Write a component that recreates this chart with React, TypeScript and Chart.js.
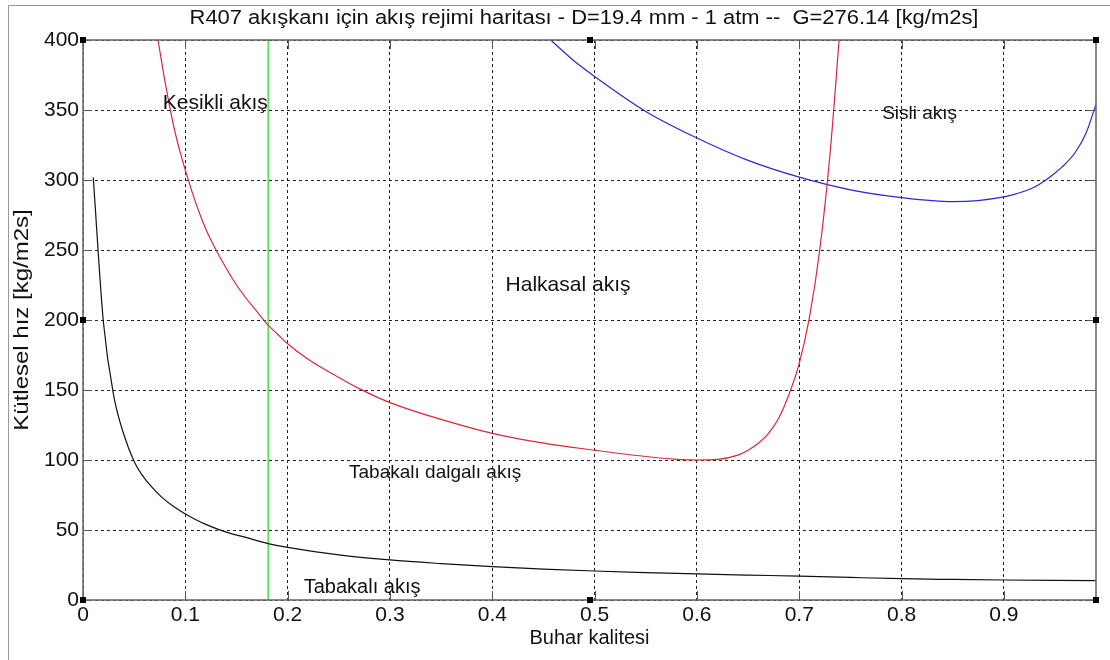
import React, { useEffect, useRef } from 'react';
import { Chart, registerables } from 'chart.js';

Chart.register(...registerables);

// ---- Data ----
const chartTitle = 'R407 akışkanı için akış rejimi haritası - D=19.4 mm - 1 atm --  G=276.14 [kg/m2s]';
const xAxisTitle = 'Buhar kalitesi';
const yAxisTitle = 'Kütlesel hız [kg/m2s]';

const xTickValues = [0, 0.1, 0.2, 0.3, 0.4, 0.5, 0.6, 0.7, 0.8, 0.9];
const xTickLabels = ['0', '0.1', '0.2', '0.3', '0.4', '0.5', '0.6', '0.7', '0.8', '0.9'];
const yTickValues = [0, 50, 100, 150, 200, 250, 300, 350, 400];
const yTickLabels = ['0', '50', '100', '150', '200', '250', '300', '350', '400'];

// Stratified / stratified-wavy boundary (black)
const stratX = [0.01, 0.02, 0.03, 0.04, 0.05, 0.06, 0.07, 0.08, 0.09, 0.10, 0.12, 0.14, 0.16, 0.18, 0.20, 0.25, 0.30, 0.35, 0.40, 0.45, 0.50, 0.55, 0.60, 0.65, 0.70, 0.75, 0.80, 0.85, 0.90, 0.95, 0.99];
const stratY = [302, 198, 146, 118, 99, 87, 78.5, 71.5, 66, 61.5, 54, 48.5, 44.5, 40.5, 37.6, 32.2, 28.6, 26, 23.8, 22.1, 20.7, 19.6, 18.6, 17.8, 17.1, 16.1, 15.2, 14.7, 14.3, 14.0, 13.8];

// Wavy / annular-intermittent boundary (red)
const wavyX = [0.07, 0.08, 0.09, 0.10, 0.11, 0.12, 0.13, 0.14, 0.15, 0.16, 0.17, 0.18, 0.19, 0.20, 0.22, 0.25, 0.27, 0.30, 0.35, 0.40, 0.45, 0.50, 0.55, 0.58, 0.60, 0.62, 0.64, 0.65, 0.66, 0.67, 0.68, 0.69, 0.70, 0.71, 0.72, 0.73, 0.74];
const wavyY = [415, 371, 334, 307, 284, 265, 250, 237, 225, 215, 206, 197, 190, 183, 172, 159, 151, 141, 129, 119, 112, 107, 102.5, 100.5, 100, 100.4, 103.5, 107, 112, 119, 130, 147, 169, 202, 250, 318, 410];

// Mist boundary (blue)
const mistX = [0.44, 0.46, 0.48, 0.50, 0.55, 0.60, 0.65, 0.70, 0.75, 0.80, 0.85, 0.90, 0.92, 0.93, 0.94, 0.95, 0.96, 0.97, 0.98, 0.99];
const mistY = [412, 398, 385, 374, 349, 330, 314, 302, 293, 287.4, 284.5, 288, 292, 295, 299.5, 305, 311.5, 320, 333, 354];

// Intermittent / annular transition quality (green)
const transX = [0.181, 0.181];
const transY = [0, 400];

// Region labels (data coordinates of left/baseline)
const regionNames = ['Kesikli akış', 'Sisli akış', 'Halkasal akış', 'Tabakalı dalgalı akış', 'Tabakalı akış'];
const regionX = [0.078, 0.781, 0.413, 0.260, 0.2157];
const regionY = [351, 343.5, 221, 87, 5.2];
const regionSize = [21, 19, 21, 19, 20];

const FONT = '"Liberation Sans", Arial, sans-serif';

const toPts = (xs: number[], ys: number[]) => xs.map((x, i) => ({ x, y: ys[i] }));

const decorPlugin = {
  id: 'decor',
  afterDraw(chart: any) {
    const { ctx, chartArea } = chart;
    const { left, right, top, bottom } = chartArea;
    const xs = chart.scales.x;
    const ys = chart.scales.y;
    ctx.save();

    // outer figure border
    ctx.strokeStyle = '#9a9a9a';
    ctx.lineWidth = 1;
    ctx.beginPath();
    ctx.moveTo(8.5, 660);
    ctx.lineTo(8.5, 5.5);
    ctx.lineTo(1110, 5.5);
    ctx.stroke();

    // inward ticks
    ctx.strokeStyle = '#555';
    ctx.lineWidth = 1;
    const tl = 9;
    ctx.beginPath();
    xTickValues.forEach((v) => {
      const px = Math.round(xs.getPixelForValue(v)) + 0.5;
      ctx.moveTo(px, bottom);
      ctx.lineTo(px, bottom - tl);
      ctx.moveTo(px, top);
      ctx.lineTo(px, top + tl);
    });
    yTickValues.forEach((v) => {
      const py = Math.round(ys.getPixelForValue(v)) + 0.5;
      ctx.moveTo(left, py);
      ctx.lineTo(left + tl, py);
      ctx.moveTo(right, py);
      ctx.lineTo(right - tl, py);
    });
    ctx.stroke();

    // axes box
    ctx.strokeStyle = '#6a6a6a';
    ctx.lineWidth = 1.6;
    ctx.strokeRect(left, top, right - left, bottom - top);

    // selection handles
    ctx.fillStyle = '#000';
    const midX = (left + right) / 2;
    const midY = (top + bottom) / 2;
    const hs = 6;
    [[left, top], [midX, top], [right, top], [left, midY], [right, midY], [left, bottom], [midX, bottom], [right, bottom]].forEach(([hx, hy]) => {
      ctx.fillRect(Math.round(hx - hs / 2), Math.round(hy - hs / 2), hs, hs);
    });

    // region labels
    ctx.fillStyle = '#111';
    ctx.textAlign = 'left';
    ctx.textBaseline = 'alphabetic';
    regionNames.forEach((name, i) => {
      ctx.font = `${regionSize[i]}px ${FONT}`;
      ctx.fillText(name, xs.getPixelForValue(regionX[i]), ys.getPixelForValue(regionY[i]));
    });

    // title (slightly widened like the original rendering)
    ctx.font = `20px ${FONT}`;
    ctx.textAlign = 'center';
    ctx.fillStyle = '#111';
    ctx.save();
    ctx.translate(584, 24);
    ctx.scale(1.097, 1);
    ctx.fillText(chartTitle, 0, 0);
    ctx.restore();

    // y axis title (rotated, widened along its direction)
    ctx.save();
    ctx.font = `20px ${FONT}`;
    ctx.textAlign = 'center';
    ctx.textBaseline = 'middle';
    ctx.translate(22, (top + bottom) / 2);
    ctx.rotate(-Math.PI / 2);
    ctx.scale(1.2, 1);
    ctx.fillText(yAxisTitle, 0, 0);
    ctx.restore();

    ctx.restore();
  },
};

export default function App() {
  const canvasRef = useRef<HTMLCanvasElement | null>(null);

  useEffect(() => {
    const canvas = canvasRef.current;
    if (!canvas) return;
    const tickFont = { family: FONT, size: 21 };
    const chart = new Chart(canvas, {
      type: 'line',
      data: {
        datasets: [
          { label: 'strat', data: toPts(stratX, stratY), borderColor: '#111111', borderWidth: 1.2, pointRadius: 0, cubicInterpolationMode: 'monotone' },
          { label: 'wavy', data: toPts(wavyX, wavyY), borderColor: '#d8283a', borderWidth: 1.2, pointRadius: 0, cubicInterpolationMode: 'monotone' },
          { label: 'mist', data: toPts(mistX, mistY), borderColor: '#2a2ad0', borderWidth: 1.2, pointRadius: 0, cubicInterpolationMode: 'monotone' },
          { label: 'trans', data: toPts(transX, transY), borderColor: '#55e055', borderWidth: 1.6, pointRadius: 0 },
        ],
      },
      options: {
        responsive: false,
        animation: false,
        parsing: true,
        layout: { padding: { top: 40, right: 14, left: 0, bottom: 0 } },
        plugins: {
          legend: { display: false },
          title: { display: false },
          tooltip: { enabled: false },
        },
        scales: {
          x: {
            type: 'linear',
            min: 0,
            max: 0.99,
            afterBuildTicks: (s: any) => {
              s.ticks = xTickValues.map((v) => ({ value: v }));
            },
            afterFit: (s: any) => {
              s.height = 60;
            },
            ticks: {
              callback: (_v: any, i: number) => xTickLabels[i],
              font: tickFont,
              color: '#111',
              padding: 3,
              maxRotation: 0,
              autoSkip: false,
            },
            grid: { color: '#222', lineWidth: 1, drawTicks: false },
            border: { display: false, dash: [3, 3] },
            title: { display: true, text: xAxisTitle, font: { family: FONT, size: 20 }, color: '#111', padding: { top: 0, bottom: 10 } },
          },
          y: {
            type: 'linear',
            min: 0,
            max: 400,
            afterBuildTicks: (s: any) => {
              s.ticks = yTickValues.map((v) => ({ value: v }));
            },
            afterFit: (s: any) => {
              s.width = 83;
            },
            ticks: {
              callback: (_v: any, i: number) => yTickLabels[i],
              font: tickFont,
              color: '#111',
              padding: 4,
              autoSkip: false,
            },
            grid: { color: '#222', lineWidth: 1, drawTicks: false },
            border: { display: false, dash: [3, 3] },
            title: { display: false },
          },
        },
      },
      plugins: [decorPlugin],
    } as any);
    return () => chart.destroy();
  }, []);

  return (
    <div style={{ position: 'absolute', left: 0, top: 0, width: 1110, height: 660, background: '#fff' }}>
      <canvas ref={canvasRef} width={1110} height={660} style={{ display: 'block' }} />
    </div>
  );
}
